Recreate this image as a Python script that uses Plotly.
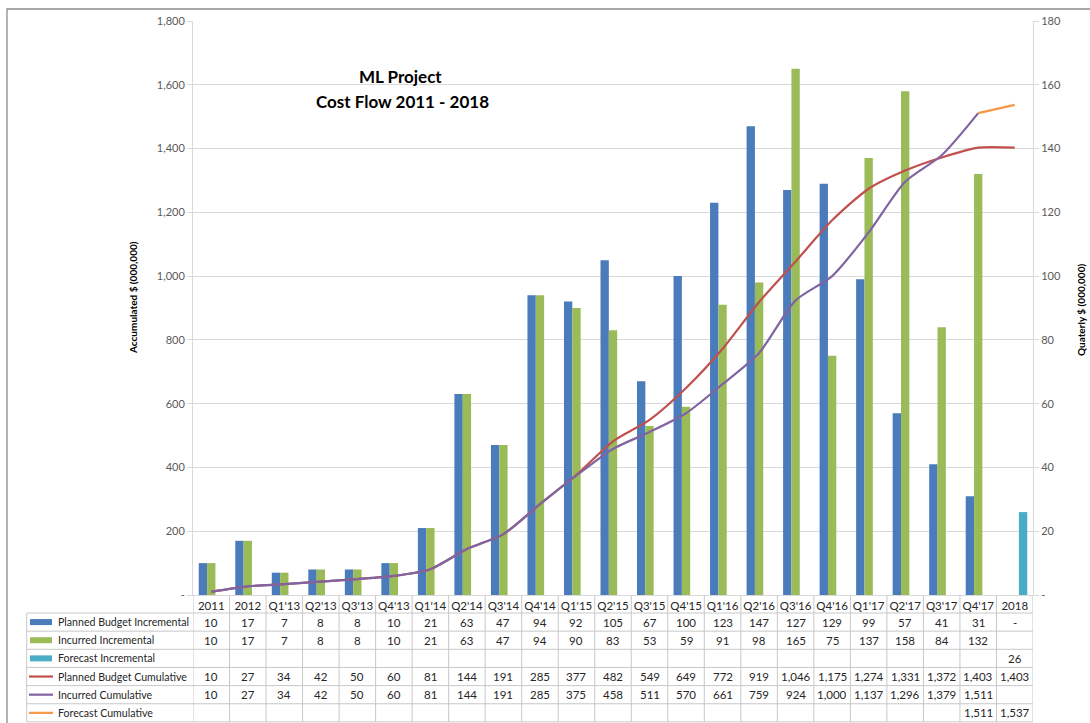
import plotly.graph_objects as go

# ---------------- data ----------------
categories = ["2011", "2012", "Q1'13", "Q2'13", "Q3'13", "Q4'13", "Q1'14", "Q2'14",
              "Q3'14", "Q4'14", "Q1'15", "Q2'15", "Q3'15", "Q4'15", "Q1'16", "Q2'16",
              "Q3'16", "Q4'16", "Q1'17", "Q2'17", "Q3'17", "Q4'17", "2018"]
planned_inc = [10, 17, 7, 8, 8, 10, 21, 63, 47, 94, 92, 105, 67, 100, 123, 147,
               127, 129, 99, 57, 41, 31, 0]
incurred_inc = [10, 17, 7, 8, 8, 10, 21, 63, 47, 94, 90, 83, 53, 59, 91, 98,
                165, 75, 137, 158, 84, 132, None]
forecast_inc = [None, None, None, None, None, None, None, None, None, None, None, None,
                None, None, None, None, None, None, None, None, None, None, 26]
planned_cum = [10, 27, 34, 42, 50, 60, 81, 144, 191, 285, 377, 482, 549, 649, 772, 919,
               1046, 1175, 1274, 1331, 1372, 1403, 1403]
incurred_cum = [10, 27, 34, 42, 50, 60, 81, 144, 191, 285, 375, 458, 511, 570, 661, 759,
                924, 1000, 1137, 1296, 1379, 1511, None]
forecast_cum = [None, None, None, None, None, None, None, None, None, None, None, None,
                None, None, None, None, None, None, None, None, None, 1511, 1537]
series_names = ["Planned Budget Incremental", "Incurred Incremental", "Forecast Incremental",
                "Planned Budget Cumulative", "Incurred Cumulative", "Forecast Cumulative"]
left_ticks = [0, 200, 400, 600, 800, 1000, 1200, 1400, 1600, 1800]
right_ticks = [0, 20, 40, 60, 80, 100, 120, 140, 160, 180]
title_lines = ["ML Project", "Cost Flow 2011 - 2018"]
left_title = "Accumulated $ (000,000)"
right_title = "Quaterly $ (000,000)"

# ---------------- style ----------------
W_FIG, H_FIG = 1090, 723
L, R, T, B = 193, 1033, 21, 595
PW, PH = R - L, B - T
FONT = "Lato, 'Open Sans', sans-serif"
BLUE, GREEN, TEAL = "#4A7BBA", "#9BBB59", "#4BACC6"
RED, PURPLE, ORANGE = "#C0504D", "#8064A2", "#F79646"
GRID = "#D9D9D9"
TABLE_LINE = "#C8C8C8"
TXT = "#262626"
TICK_TXT = "#595959"


def px_x(px):
    return (px - L) / PW


def px_y(py):
    return (B - py) / PH


def fmt(v):
    if v is None:
        return ""
    if v == 0:
        return "-"
    return f"{v:,}"


fig = go.Figure()

bar_series = [(planned_inc, BLUE), (incurred_inc, GREEN), (forecast_inc, TEAL)]
for (vals, col), name in zip(bar_series, series_names[:3]):
    fig.add_trace(go.Bar(x=categories, y=vals, name=name, marker_color=col,
                         marker_line_width=0, yaxis="y", showlegend=False))

line_series = [(planned_cum, RED), (incurred_cum, PURPLE), (forecast_cum, ORANGE)]
for (vals, col), name in zip(line_series, series_names[3:]):
    fig.add_trace(go.Scatter(x=categories, y=vals, name=name, mode="lines",
                             line=dict(color=col, width=2.2, shape="spline", smoothing=0.7),
                             yaxis="y2", showlegend=False, connectgaps=False))

# ---------------- table (shapes + annotations) ----------------
shapes = []
annotations = []
ROW_TOP = 613.0
ROW_H = 18.15
N_ROWS = 6
row_bounds = [ROW_TOP + k * ROW_H for k in range(N_ROWS + 1)]
TABLE_LEFT = 26.7
TABLE_BOTTOM = row_bounds[-1]

# horizontal lines
for yb in row_bounds:
    shapes.append(dict(type="line", xref="paper", yref="paper",
                       x0=px_x(TABLE_LEFT), x1=1, y0=px_y(yb), y1=px_y(yb),
                       line=dict(color=TABLE_LINE, width=1)))
# label column left border
shapes.append(dict(type="line", xref="paper", yref="paper",
                   x0=px_x(TABLE_LEFT), x1=px_x(TABLE_LEFT), y0=px_y(ROW_TOP), y1=px_y(TABLE_BOTTOM),
                   line=dict(color=TABLE_LINE, width=1)))
# category dividers
for i in range(len(categories) + 1):
    shapes.append(dict(type="line", xref="x", yref="paper",
                       x0=i - 0.5, x1=i - 0.5, y0=0, y1=px_y(TABLE_BOTTOM),
                       line=dict(color=TABLE_LINE, width=1)))

rows = [planned_inc, incurred_inc, forecast_inc, planned_cum, incurred_cum, forecast_cum]
colors = [BLUE, GREEN, TEAL, RED, PURPLE, ORANGE]
is_bar = [True, True, True, False, False, False]
for r, (vals, col, bar, name) in enumerate(zip(rows, colors, is_bar, series_names)):
    yc = px_y(ROW_TOP + (r + 0.5) * ROW_H)
    if bar:
        shapes.append(dict(type="rect", xref="paper", yref="paper",
                           x0=px_x(30), x1=px_x(52),
                           y0=yc - 3 / PH, y1=yc + 3 / PH,
                           fillcolor=col, line=dict(width=0)))
    else:
        shapes.append(dict(type="line", xref="paper", yref="paper",
                           x0=px_x(29), x1=px_x(53), y0=yc, y1=yc,
                           line=dict(color=col, width=2.2)))
    annotations.append(dict(text=name, xref="paper", yref="paper", x=px_x(55.5), y=yc,
                            xanchor="left", yanchor="middle", showarrow=False,
                            font=dict(family=FONT, size=10.6, color=TXT)))
    for j, v in enumerate(vals):
        s = fmt(v)
        if s:
            annotations.append(dict(text=s, xref="x", yref="paper", x=j, y=yc,
                                    xanchor="center", yanchor="middle", showarrow=False,
                                    font=dict(family=FONT, size=11.5, color=TXT)))

# chart frame
shapes.append(dict(type="rect", xref="paper", yref="paper",
                   x0=px_x(7), x1=px_x(1200), y0=px_y(9), y1=px_y(800),
                   line=dict(color="#8C8C8C", width=1.3), fillcolor="rgba(0,0,0,0)"))

# titles
annotations.append(dict(text="<b>%s</b>" % title_lines[0], xref="paper", yref="paper",
                        x=px_x(400), y=px_y(76), xanchor="center", yanchor="middle",
                        showarrow=False, font=dict(family=FONT, size=17, color="#000000")))
annotations.append(dict(text="<b>%s</b>" % title_lines[1], xref="paper", yref="paper",
                        x=px_x(402), y=px_y(102), xanchor="center", yanchor="middle",
                        showarrow=False, font=dict(family=FONT, size=17, color="#000000")))
annotations.append(dict(text="<b>%s</b>" % left_title, xref="paper", yref="paper",
                        x=px_x(133), y=px_y(298), xanchor="center", yanchor="middle",
                        textangle=-90, showarrow=False,
                        font=dict(family=FONT, size=10, color="#000000")))
annotations.append(dict(text="<b>%s</b>" % right_title, xref="paper", yref="paper",
                        x=px_x(1081), y=px_y(310), xanchor="center", yanchor="middle",
                        textangle=-90, showarrow=False,
                        font=dict(family=FONT, size=10, color="#000000")))

fig.update_layout(
    width=W_FIG, height=H_FIG,
    margin=dict(l=L, r=W_FIG - R, t=T, b=H_FIG - B, pad=0),
    paper_bgcolor="white", plot_bgcolor="white",
    barmode="group", bargap=0.315, bargroupgap=0,
    font=dict(family=FONT, size=11, color=TICK_TXT),
    xaxis=dict(type="category", showgrid=False, showline=True, linecolor=GRID, linewidth=1,
               ticks="", tickfont=dict(family=FONT, size=11.5, color=TXT),
               range=[-0.5, len(categories) - 0.5], fixedrange=True),
    yaxis=dict(side="right", range=[0, 180], tickvals=right_ticks,
               ticktext=[fmt(v) for v in right_ticks], showgrid=False, zeroline=False,
               showline=True, linecolor=GRID, ticks="outside", ticklen=5, tickcolor=GRID,
               tickfont=dict(family=FONT, size=11, color=TICK_TXT)),
    yaxis2=dict(side="left", overlaying="y", range=[0, 1800], tickvals=left_ticks,
                ticktext=[fmt(v) for v in left_ticks], showgrid=True, gridcolor=GRID,
                gridwidth=1, zeroline=False, showline=True, linecolor=GRID,
                ticks="outside", ticklen=5, tickcolor=GRID,
                tickfont=dict(family=FONT, size=11, color=TICK_TXT)),
    shapes=shapes,
    annotations=annotations,
)

fig.write_html("out.html", config={"displayModeBar": False},
               post_script="document.body.style.margin='0';document.body.style.overflow='hidden';")
